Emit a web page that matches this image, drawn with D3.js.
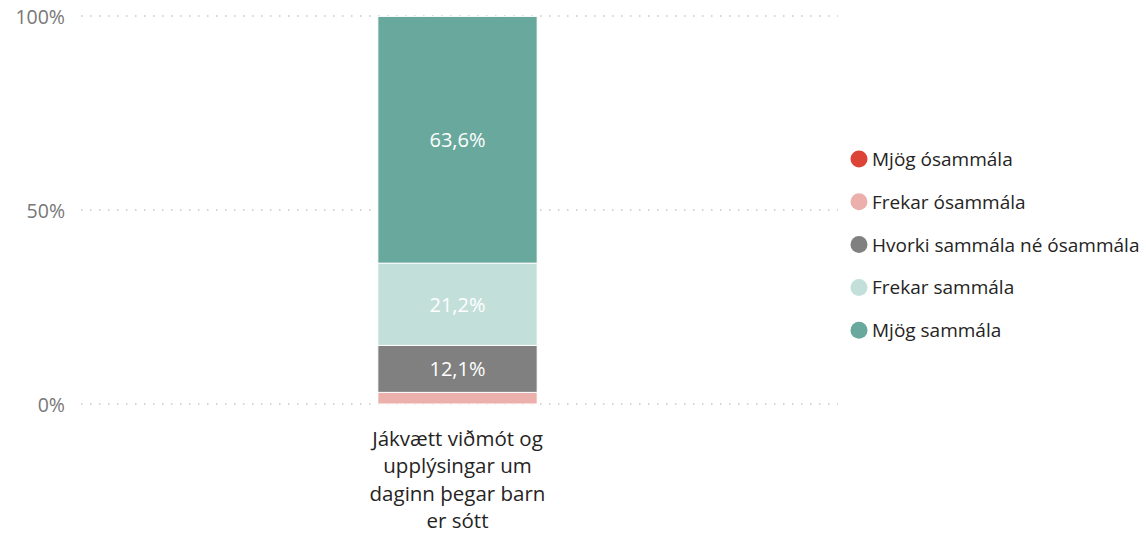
<!DOCTYPE html>
<html>
<head>
<meta charset="utf-8">
<script src="https://cdn.jsdelivr.net/npm/d3@7"></script>
<style>
  body { margin: 0; background: #fff; }
  svg { display: block; font-family: "Open Sans", "Noto Sans", sans-serif; }
</style>
</head>
<body>
<div id="chart"></div>
<script>
const categories = ["Jákvætt viðmót og upplýsingar um daginn þegar barn er sótt"];
const categoryLines = [["Jákvætt viðmót og", "upplýsingar um", "daginn þegar barn", "er sótt"]];
const seriesNames = ["Mjög ósammála", "Frekar ósammála", "Hvorki sammála né ósammála", "Frekar sammála", "Mjög sammála"];
const seriesValues = [0, 3.0, 12.1, 21.2, 63.6];
const seriesColors = ["#dc4437", "#ebb0ac", "#808080", "#c3dfd9", "#69a99d"];
const yTicks = [0, 50, 100];

const width = 1146;
const height = 536;

const svg = d3.select("#chart").append("svg")
  .attr("width", width)
  .attr("height", height);

const x = d3.scaleBand()
  .domain(categories)
  .range([78, 837])
  .padding(0.653);

const y = d3.scaleLinear()
  .domain([0, 100])
  .range([404, 16]);

// gridlines
svg.append("g")
  .selectAll("line")
  .data(yTicks)
  .enter().append("line")
    .attr("x1", 81)
    .attr("x2", 838)
    .attr("y1", d => y(d))
    .attr("y2", d => y(d))
    .attr("stroke", "#c8c8c8")
    .attr("stroke-width", 1.5)
    .attr("stroke-dasharray", "1.5,7.5");

// y axis labels
svg.append("g")
  .selectAll("text")
  .data(yTicks)
  .enter().append("text")
    .attr("x", 65)
    .attr("y", d => y(d))
    .attr("dominant-baseline", "central")
    .style("text-anchor", "end")
    .style("font-size", "19.5px")
    .attr("fill", "#777")
    .text(d => d + "%");

// stacked segments
let acc = 0;
const stacked = seriesValues.map((v, i) => {
  const s = { name: seriesNames[i], value: v, y0: acc, y1: acc + v, color: seriesColors[i] };
  acc += v;
  return s;
});

const bar = svg.append("g")
  .selectAll("g")
  .data(stacked.filter(d => d.value > 0))
  .enter().append("g");

bar.append("rect")
  .attr("x", x(categories[0]))
  .attr("width", x.bandwidth())
  .attr("y", d => y(d.y1))
  .attr("height", d => y(d.y0) - y(d.y1))
  .attr("fill", d => d.color)
  .attr("stroke", "#fff")
  .attr("stroke-width", 1);

bar.filter(d => d.value >= 5).append("text")
  .attr("x", x(categories[0]) + x.bandwidth() / 2)
  .attr("y", d => y((d.y0 + d.y1) / 2))
  .attr("dominant-baseline", "central")
  .style("text-anchor", "middle")
  .style("font-size", "20px")
  .attr("fill", "#fff")
  .text(d => d.value.toFixed(1).replace(".", ",") + "%");

// category label
const catLabel = svg.append("text")
  .attr("x", x(categories[0]) + x.bandwidth() / 2)
  .attr("y", 440)
  .style("text-anchor", "middle")
  .style("font-size", "20.5px")
  .attr("fill", "#252423");
catLabel.selectAll("tspan")
  .data(categoryLines[0])
  .enter().append("tspan")
    .attr("x", x(categories[0]) + x.bandwidth() / 2)
    .attr("dy", (d, i) => i === 0 ? 6 : 27.3)
    .text(d => d);

// legend
const legend = svg.append("g")
  .attr("transform", "translate(859,159)");
const item = legend.selectAll("g")
  .data(seriesNames)
  .enter().append("g")
    .attr("transform", (d, i) => `translate(0,${i * 42.8})`);
item.append("circle")
  .attr("r", 8.5)
  .attr("fill", (d, i) => seriesColors[i]);
item.append("text")
  .attr("x", 13)
  .attr("dominant-baseline", "central")
  .style("font-size", "19px")
  .attr("fill", "#252423")
  .text(d => d);
</script>
</body>
</html>
